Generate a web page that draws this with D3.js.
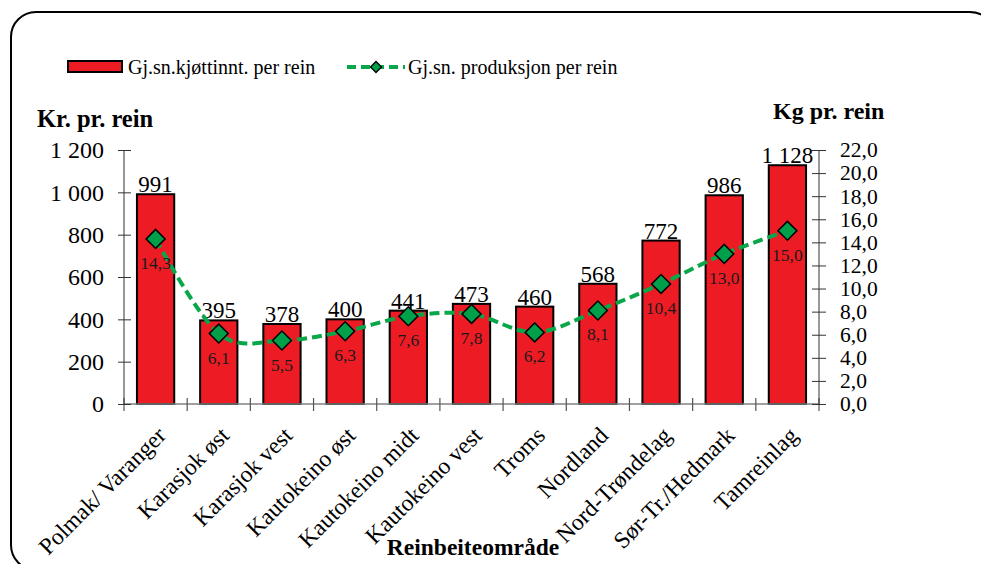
<!DOCTYPE html>
<html>
<head>
<meta charset="utf-8">
<script src="https://cdn.jsdelivr.net/npm/d3@7"></script>
<style>
  body { margin: 0; background: #fff; }
  svg text { font-family: "Liberation Serif", "Times New Roman", serif; }
</style>
</head>
<body>
<script>
const categories = ["Polmak/ Varanger", "Karasjok øst", "Karasjok vest", "Kautokeino øst",
  "Kautokeino midt", "Kautokeino vest", "Troms", "Nordland", "Nord-Trøndelag",
  "Sør-Tr./Hedmark", "Tamreinlag"];
const kjottinntekt = [991, 395, 378, 400, 441, 473, 460, 568, 772, 986, 1128];
const produksjon = [14.3, 6.1, 5.5, 6.3, 7.6, 7.8, 6.2, 8.1, 10.4, 13.0, 15.0];
const leftTicks = [0, 200, 400, 600, 800, 1000, 1200];
const rightTicks = [0, 2, 4, 6, 8, 10, 12, 14, 16, 18, 20, 22];

const width = 981, height = 564;
const plotLeft = 124, plotRight = 819, plotTop = 150, plotBottom = 404;

const no = d3.formatLocale({ decimal: ",", thousands: "\u00a0", grouping: [3], currency: ["", " kr"] });
const fmtInt = no.format(",d");
const fmt1 = no.format(",.1f");

const data = categories.map((c, i) => ({ cat: c, kr: kjottinntekt[i], kg: produksjon[i] }));

const x = d3.scaleBand().domain(categories).range([plotLeft, plotRight]).paddingInner(0.41).paddingOuter(0.205);
const xb = d3.scaleBand().domain(categories).range([plotLeft, plotRight]);
const yL = d3.scaleLinear().domain([0, 1200]).range([plotBottom, plotTop]);
const yR = d3.scaleLinear().domain([0, 22]).range([plotBottom, plotTop]);

const svg = d3.select("body").append("svg")
  .attr("width", width)
  .attr("height", height);

// frame
svg.append("rect")
  .attr("x", 11).attr("y", 12)
  .attr("width", 984).attr("height", 558)
  .attr("rx", 25)
  .attr("fill", "none")
  .attr("stroke", "#000")
  .attr("stroke-width", 2);

// bars
svg.append("g")
  .selectAll("rect")
  .data(data)
  .join("rect")
  .attr("x", d => x(d.cat))
  .attr("y", d => yL(d.kr))
  .attr("width", x.bandwidth())
  .attr("height", d => plotBottom - yL(d.kr))
  .attr("fill", "#ed1c24")
  .attr("stroke", "#000")
  .attr("stroke-width", 2);

// x axis
const xAxis = svg.append("g").attr("class", "xaxis");
xAxis.append("line")
  .attr("x1", plotLeft).attr("x2", plotRight)
  .attr("y1", plotBottom).attr("y2", plotBottom)
  .attr("stroke", "#808080").attr("stroke-width", 1.5);
xAxis.selectAll("line.tick")
  .data(categories.concat([null]))
  .join("line")
  .attr("class", "tick")
  .attr("x1", (d, i) => plotLeft + i * xb.bandwidth())
  .attr("x2", (d, i) => plotLeft + i * xb.bandwidth())
  .attr("y1", plotBottom - 6).attr("y2", plotBottom + 7)
  .attr("stroke", "#555").attr("stroke-width", 1.2);

xAxis.selectAll("text")
  .data(categories)
  .join("text")
  .attr("transform", d => `translate(${xb(d) + xb.bandwidth() / 2 + 6},${plotBottom + 27}) rotate(-45)`)
  .attr("text-anchor", "end")
  .attr("dy", "0.35em")
  .attr("font-size", 23.5)
  .text(d => d);

// left axis
const gL = svg.append("g").attr("transform", `translate(${plotLeft},0)`)
  .call(d3.axisLeft(yL).tickValues(leftTicks).tickFormat(fmtInt).tickSize(6).tickPadding(14));
gL.selectAll(".tick line").attr("x2", 7).attr("x1", -6).attr("stroke", "#333");
gL.select(".domain").attr("stroke", "#333").attr("d", `M0,${plotTop}V${plotBottom}`);
gL.selectAll("text").attr("font-size", 24).attr("fill", "#000");

// right axis
const gR = svg.append("g").attr("transform", `translate(${plotRight},0)`)
  .call(d3.axisRight(yR).tickValues(rightTicks).tickFormat(fmt1).tickSize(6).tickPadding(15));
gR.selectAll(".tick line").attr("x1", -7).attr("x2", 7).attr("stroke", "#333");
gR.select(".domain").attr("stroke", "#333").attr("d", `M0,${plotTop}V${plotBottom}`);
gR.selectAll("text").attr("font-size", 21.5).attr("fill", "#000");

// bar labels
svg.append("g")
  .selectAll("text")
  .data(data)
  .join("text")
  .attr("x", d => x(d.cat) + x.bandwidth() / 2)
  .attr("y", d => yL(d.kr) - 2)
  .attr("text-anchor", "middle")
  .attr("font-size", 23)
  .text(d => fmtInt(d.kr));

// line
const cx = d => xb(d.cat) + xb.bandwidth() / 2;
const line = d3.line().curve(d3.curveCardinal.tension(0)).x(cx).y(d => yR(d.kg));
svg.append("path")
  .datum(data)
  .attr("d", line)
  .attr("fill", "none")
  .attr("stroke", "#0aa64a")
  .attr("stroke-width", 4)
  .attr("stroke-dasharray", "10,5");

const diamond = d3.symbol().type(d3.symbolSquare).size(180);
svg.append("g")
  .selectAll("path")
  .data(data)
  .join("path")
  .attr("d", diamond)
  .attr("transform", d => `translate(${cx(d)},${yR(d.kg)}) rotate(45)`)
  .attr("fill", "#00a04a")
  .attr("stroke", "#000")
  .attr("stroke-width", 1.5);

svg.append("g")
  .selectAll("text")
  .data(data)
  .join("text")
  .attr("x", cx)
  .attr("y", d => yR(d.kg) + 30)
  .attr("text-anchor", "middle")
  .attr("font-size", 17.5)
  .attr("fill", "#1a1a1a")
  .text(d => fmt1(d.kg));

// axis titles
svg.append("text").attr("x", 37).attr("y", 127)
  .attr("font-size", 24.5).attr("font-weight", "bold").text("Kr. pr. rein");
svg.append("text").attr("x", 773).attr("y", 119)
  .attr("font-size", 24).attr("font-weight", "bold").text("Kg pr. rein");
svg.append("text").attr("x", 473).attr("y", 555)
  .attr("text-anchor", "middle")
  .attr("font-size", 23.5).attr("font-weight", "bold").text("Reinbeiteområde");

// legend
const lg = svg.append("g");
lg.append("rect").attr("x", 68).attr("y", 61).attr("width", 54).attr("height", 11)
  .attr("fill", "#ed1c24").attr("stroke", "#000").attr("stroke-width", 2);
lg.append("text").attr("x", 128).attr("y", 74).attr("font-size", 20).text("Gj.sn.kjøttinnt. per rein");
lg.append("line").attr("x1", 347).attr("x2", 405).attr("y1", 67).attr("y2", 67)
  .attr("stroke", "#0aa64a").attr("stroke-width", 4).attr("stroke-dasharray", "9,5");
lg.append("path").attr("d", d3.symbol().type(d3.symbolSquare).size(60))
  .attr("transform", "translate(376,67) rotate(45)")
  .attr("fill", "#00a04a").attr("stroke", "#000").attr("stroke-width", 1.3);
lg.append("text").attr("x", 408).attr("y", 74).attr("font-size", 20).text("Gj.sn. produksjon per rein");
</script>
</body>
</html>
